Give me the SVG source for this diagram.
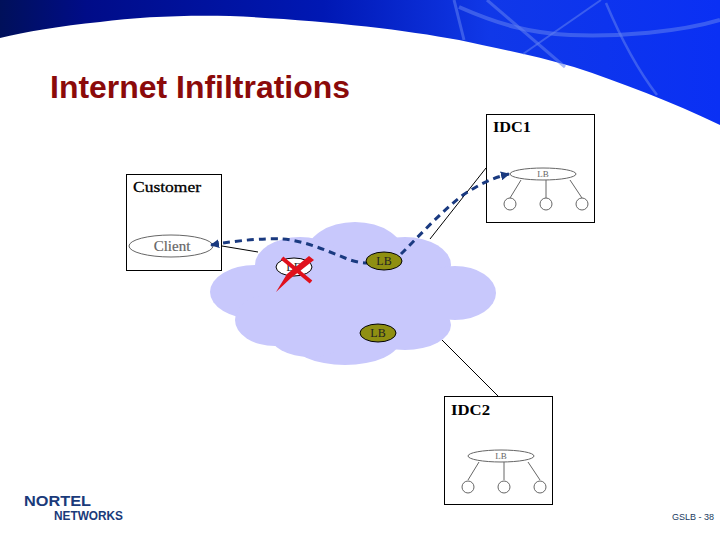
<svg xmlns="http://www.w3.org/2000/svg" width="720" height="540" viewBox="0 0 720 540">
<style>
.box{fill:#fff;stroke:#000;stroke-width:1}
.serif{font-family:"Liberation Serif","Times New Roman",serif}
.sans{font-family:"Liberation Sans",Arial,sans-serif}
.head{font-size:15px;fill:#000;font-weight:bold}
.gray{fill:#fff;stroke:#666;stroke-width:1}
.glab{font-size:9px;fill:#666;text-anchor:middle}
.wire{stroke:#000;stroke-width:1;fill:none}
.gwire{stroke:#666;stroke-width:1;fill:none}
.lb{fill:#8f8f12;stroke:#000;stroke-width:1}
.lbt{font-size:12px;fill:#222;text-anchor:middle}
.dash{stroke:#1a3a80;stroke-width:3;fill:none;stroke-dasharray:7 5}
.streak{stroke:#6080f0;fill:none;opacity:.55}
</style>
<defs>
<linearGradient id="hdr" x1="0" y1="0" x2="1" y2="0">
<stop offset="0" stop-color="#00105a"/>
<stop offset=".12" stop-color="#000c88"/>
<stop offset=".45" stop-color="#0018b4"/>
<stop offset=".68" stop-color="#1038e8"/>
<stop offset="1" stop-color="#0a30f4"/>
</linearGradient>
<marker id="arr" viewBox="0 0 10 10" refX="9" refY="5" markerWidth="3" markerHeight="3" orient="auto-start-reverse">
<path d="M0 0L10 5L0 10Z" fill="#1a3a80"/>
</marker>
</defs>
<g id="header">
<path d="M0 0H720V125C672 102 620 82 574 67C530 54 490 47 459 40C400 29 320 20 230 16C180 15 138 17 100 22C60 26 25 32 0 38Z" fill="url(#hdr)"/>
<path class="streak" stroke-width="3" d="M454 0L464 40"/>
<path class="streak" stroke-width="3" d="M487 0L565 67"/>
<path class="streak" stroke-width="2" d="M601 0L523 54"/>
<path class="streak" stroke-width="2.500" d="M606 3Q630 60 657 95"/>
<path class="streak" stroke-width="4" d="M459 7C500 25 530 33 570 35C620 37 680 32 720 20"/>
</g>
<text id="title" class="sans" x="50" y="98" font-size="31" font-weight="bold" fill="#8b0a0a" textLength="300" lengthAdjust="spacingAndGlyphs">Internet Infiltrations</text>
<g id="cloud" fill="#c8c8fc">
<ellipse cx="355" cy="256" rx="50" ry="34"/>
<ellipse cx="300" cy="265" rx="45" ry="28"/>
<ellipse cx="405" cy="265" rx="46" ry="28"/>
<ellipse cx="255" cy="292" rx="45" ry="27"/>
<ellipse cx="455" cy="293" rx="41" ry="27"/>
<ellipse cx="405" cy="325" rx="46" ry="25"/>
<ellipse cx="345" cy="340" rx="55" ry="25"/>
<ellipse cx="275" cy="320" rx="40" ry="26"/>
<ellipse cx="310" cy="335" rx="40" ry="22"/>
<rect x="260" y="265" width="180" height="70"/>
</g>
<g id="customer">
<rect class="box" x="126.500" y="174.500" width="95" height="96"/>
<text class="serif head" x="133" y="192" style="font-weight:normal;stroke:#000;stroke-width:.3" textLength="68" lengthAdjust="spacingAndGlyphs">Customer</text>
<ellipse class="gray" cx="171" cy="246" rx="42" ry="11"/>
<text class="serif" x="172" y="251" font-size="15" fill="#666" text-anchor="middle" stroke="#666" stroke-width=".2">Client</text>
</g>
<g id="idc1">
<rect class="box" x="486.500" y="114.500" width="108" height="108"/>
<text class="serif head" x="493" y="132" textLength="38" lengthAdjust="spacingAndGlyphs">IDC1</text>
<ellipse class="gray" cx="543" cy="174" rx="33" ry="6"/>
<text class="serif glab" x="543" y="177">LB</text>
<path class="gwire" d="M521 180L510 198M546 180V198M570 180L582 198"/>
<circle class="gray" cx="510" cy="204" r="6"/>
<circle class="gray" cx="546" cy="204" r="6"/>
<circle class="gray" cx="582" cy="204" r="6"/>
</g>
<g id="idc2">
<rect class="box" x="444.500" y="396.500" width="108" height="108"/>
<text class="serif head" x="451" y="415" textLength="39" lengthAdjust="spacingAndGlyphs">IDC2</text>
<ellipse class="gray" cx="501" cy="456" rx="33" ry="6"/>
<text class="serif glab" x="501" y="459">LB</text>
<path class="gwire" d="M479 462L468 480M504 462V480M528 462L540 480"/>
<circle class="gray" cx="468" cy="487" r="6"/>
<circle class="gray" cx="504" cy="487" r="6"/>
<circle class="gray" cx="540" cy="487" r="6"/>
</g>
<g id="connectors">
<path class="wire" d="M222 246L258 252"/>
<path class="wire" d="M430 239L486 168"/>
<path class="wire" d="M442 340L498 396"/>
<path class="dash" d="M211 245C240 240 265 238 283 239C305 241 325 250 345 258C352 261 360 263 367 263" marker-start="url(#arr)"/>
<path class="dash" d="M401 254C420 235 440 213 463 195C478 185 492 178 509 174" marker-end="url(#arr)"/>
</g>
<g id="lb-failed">
<ellipse cx="294" cy="267" rx="18" ry="9" fill="#fff" stroke="#000"/>
<text class="serif lbt" x="294" y="271">LB</text>
<path d="M282 258L311 282" stroke="#e0101c" stroke-width="4" fill="none"/>
<polygon points="309,256 314,260 291,278 276,292 287,274" fill="#e0101c"/>
</g>
<g id="lb-top">
<ellipse class="lb" cx="384" cy="261" rx="18" ry="9"/>
<text class="serif lbt" x="384" y="265">LB</text>
</g>
<g id="lb-bottom">
<ellipse class="lb" cx="378" cy="333" rx="18" ry="9"/>
<text class="serif lbt" x="378" y="337">LB</text>
</g>
<g id="logo" class="sans" font-weight="bold" fill="#1a3a7a">
<text x="24" y="505.500" font-size="15" textLength="67" lengthAdjust="spacingAndGlyphs">NORTEL</text>
<text x="54" y="519.500" font-size="12" textLength="69" lengthAdjust="spacingAndGlyphs">NETWORKS</text>
</g>
<text id="footer" class="sans" x="672" y="520" font-size="9" fill="#1a3a60" textLength="42">GSLB - 38</text>
</svg>
